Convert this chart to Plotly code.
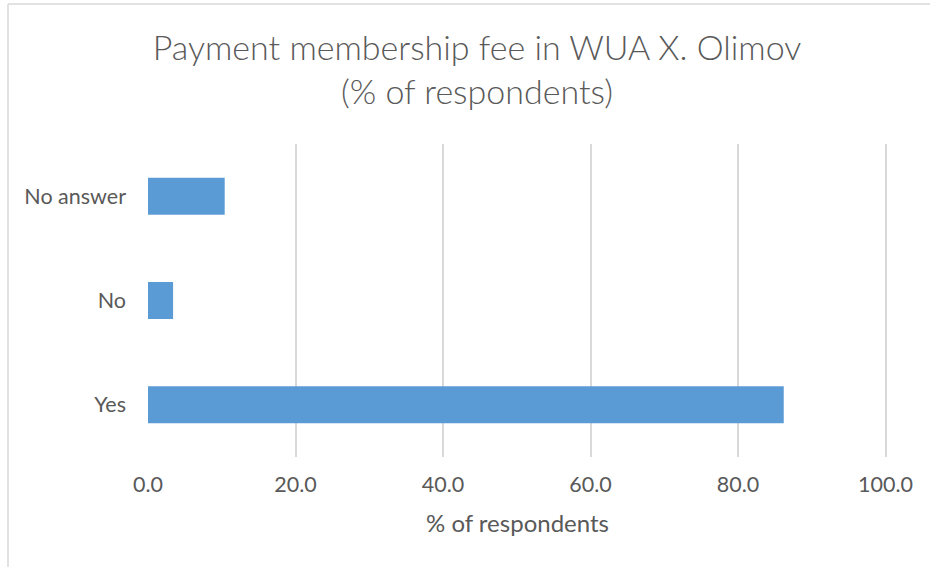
import plotly.graph_objects as go

# Survey answers and their shares (% of respondents)
categories = ["Yes", "No", "No answer"]
shares = [86.2, 3.4, 10.4]
x_ticks = [0, 20, 40, 60, 80, 100]
x_tick_labels = ["0.0", "20.0", "40.0", "60.0", "80.0", "100.0"]

TEXT = "#595959"
GRID = "#D9D9D9"
BAR = "#5B9BD5"
FONT = "Lato"

# plot area in pixels (used to place the frame in paper coordinates)
PL, PR, PT, PB = 148, 887, 144, 457
PW, PH = PR - PL, PB - PT
FRAME_X = (8 - PL) / PW
FRAME_Y = 1 + (PT - 4) / PH

fig = go.Figure(
    go.Bar(
        y=categories,
        x=shares,
        orientation="h",
        marker=dict(color=BAR, line=dict(width=0)),
        hoverinfo="x+y",
    )
)

fig.update_layout(
    width=930,
    height=567,
    margin=dict(l=PL, r=930 - PR, t=PT, b=567 - PB),
    paper_bgcolor="white",
    plot_bgcolor="white",
    bargap=0.645,
    showlegend=False,
    font=dict(family=FONT, color=TEXT, size=21.5),
    title=dict(
        text="Payment membership fee in WUA X. Olimov<br>(% of respondents)",
        x=477 / 930,
        xanchor="center",
        y=1 - 60 / 567,
        yanchor="middle",
        font=dict(family=FONT, size=34, color=TEXT, weight=300),
    ),
    xaxis=dict(
        range=[0, 100.2],
        tickvals=x_ticks,
        ticktext=x_tick_labels,
        showgrid=True,
        gridcolor=GRID,
        gridwidth=1.5,
        zeroline=False,
        showline=False,
        ticks="",
        ticklabelstandoff=12,
        tickfont=dict(size=21.5, color=TEXT),
        title=dict(text="% of respondents", standoff=19,
                   font=dict(size=24, color=TEXT)),
        fixedrange=True,
    ),
    yaxis=dict(
        categoryorder="array",
        categoryarray=categories,
        showgrid=False,
        zeroline=False,
        showline=False,
        ticks="",
        ticklabelstandoff=21,
        tickfont=dict(size=21.5, color=TEXT),
        fixedrange=True,
    ),
    shapes=[
        # chart frame: top and left edges
        dict(type="line", xref="paper", yref="paper",
             x0=FRAME_X, x1=1.2, y0=FRAME_Y, y1=FRAME_Y,
             line=dict(color=GRID, width=1.5)),
        dict(type="line", xref="paper", yref="paper",
             x0=FRAME_X, x1=FRAME_X, y0=-1, y1=FRAME_Y,
             line=dict(color=GRID, width=1.5)),
    ],
)

fig.write_html("out.html")
